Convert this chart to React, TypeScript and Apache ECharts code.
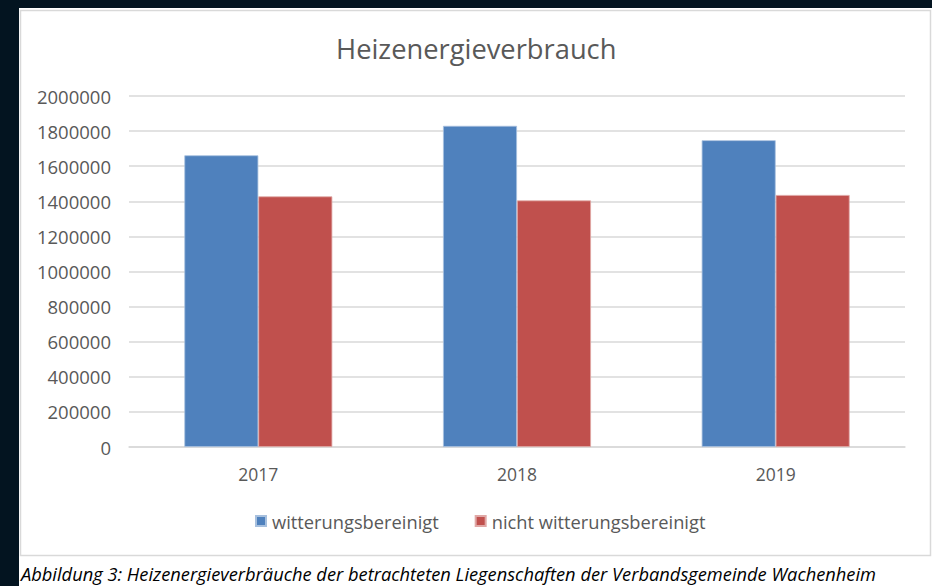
import React, { useEffect, useRef } from "react";
import * as echarts from "echarts";

const TITLE = "Heizenergieverbrauch";
const CAPTION =
  "Abbildung 3: Heizenergieverbräuche der betrachteten Liegenschaften der Verbandsgemeinde Wachenheim";
const years = ["2017", "2018", "2019"];
const seriesNames = ["witterungsbereinigt", "nicht witterungsbereinigt"];
const witterungsbereinigt = [1662000, 1830000, 1748000];
const nichtWitterungsbereinigt = [1428000, 1405000, 1436000];
const yTicks = { min: 0, max: 2000000, interval: 200000 };

const FONT = "'Open Sans', 'Noto Sans', sans-serif";

export default function App() {
  const ref = useRef<HTMLDivElement>(null);
  useEffect(() => {
    if (!ref.current) return;
    const chart = echarts.init(ref.current, undefined, { renderer: "svg" });
    chart.setOption({
      animation: false,
      backgroundColor: "#031420",
      textStyle: { fontFamily: FONT },
      title: {
        text: TITLE,
        left: 331,
        top: 30,
        textStyle: { color: "#595959", fontSize: 27.3, fontWeight: "normal", fontFamily: FONT },
      },
      graphic: [
        {
          type: "rect",
          z: -10,
          silent: true,
          shape: { x: 19, y: 8, width: 913, height: 578 },
          style: { fill: "#ffffff" },
        },
        {
          type: "rect",
          z: -9,
          silent: true,
          shape: { x: 20.5, y: 10.5, width: 910, height: 545 },
          style: { fill: "#ffffff", stroke: "#d9d9d9", lineWidth: 1.5 },
        },
        {
          type: "text",
          x: 21,
          y: 573,
          silent: true,
          style: {
            text: CAPTION,
            fill: "#000000",
            font: `italic 18.3px ${FONT}`,
            textVerticalAlign: "middle",
          },
        },
      ],
      legend: {
        left: 250,
        top: 507,
        itemWidth: 10,
        itemHeight: 10,
        itemGap: 36,
        icon: "rect",
        data: seriesNames,
        textStyle: { color: "#595959", fontSize: 18.3, fontFamily: FONT, padding: [0, 0, 0, 1] },
      },
      grid: { left: 129, right: 27, top: 96, bottom: 139, containLabel: false },
      xAxis: {
        type: "category",
        data: years,
        axisLine: { show: true, lineStyle: { color: "#d9d9d9", width: 1.5 } },
        axisTick: { show: false },
        axisLabel: { color: "#595959", fontSize: 17.5, margin: 18, fontFamily: FONT },
      },
      yAxis: {
        type: "value",
        min: yTicks.min,
        max: yTicks.max,
        interval: yTicks.interval,
        axisLine: { show: false },
        axisTick: { show: false },
        splitLine: { lineStyle: { color: "#d9d9d9", width: 1.5 } },
        axisLabel: {
          color: "#595959",
          fontSize: 18.5,
          margin: 18,
          fontFamily: FONT,
          formatter: (v: number) => String(v),
        },
      },
      series: [
        {
          name: seriesNames[0],
          type: "bar",
          data: witterungsbereinigt,
          barGap: "0%",
          barCategoryGap: "42.8%",
          itemStyle: { color: "#4f81bd", borderColor: "#a7c0de", borderWidth: 0.8 },
        },
        {
          name: seriesNames[1],
          type: "bar",
          data: nichtWitterungsbereinigt,
          barGap: "0%",
          barCategoryGap: "42.8%",
          itemStyle: { color: "#c0504d", borderColor: "#e0a8a6", borderWidth: 0.8 },
        },
      ],
    });
    return () => chart.dispose();
  }, []);
  return (
    <div
      ref={ref}
      style={{ position: "fixed", left: 0, top: 0, width: 932, height: 586 }}
    />
  );
}
